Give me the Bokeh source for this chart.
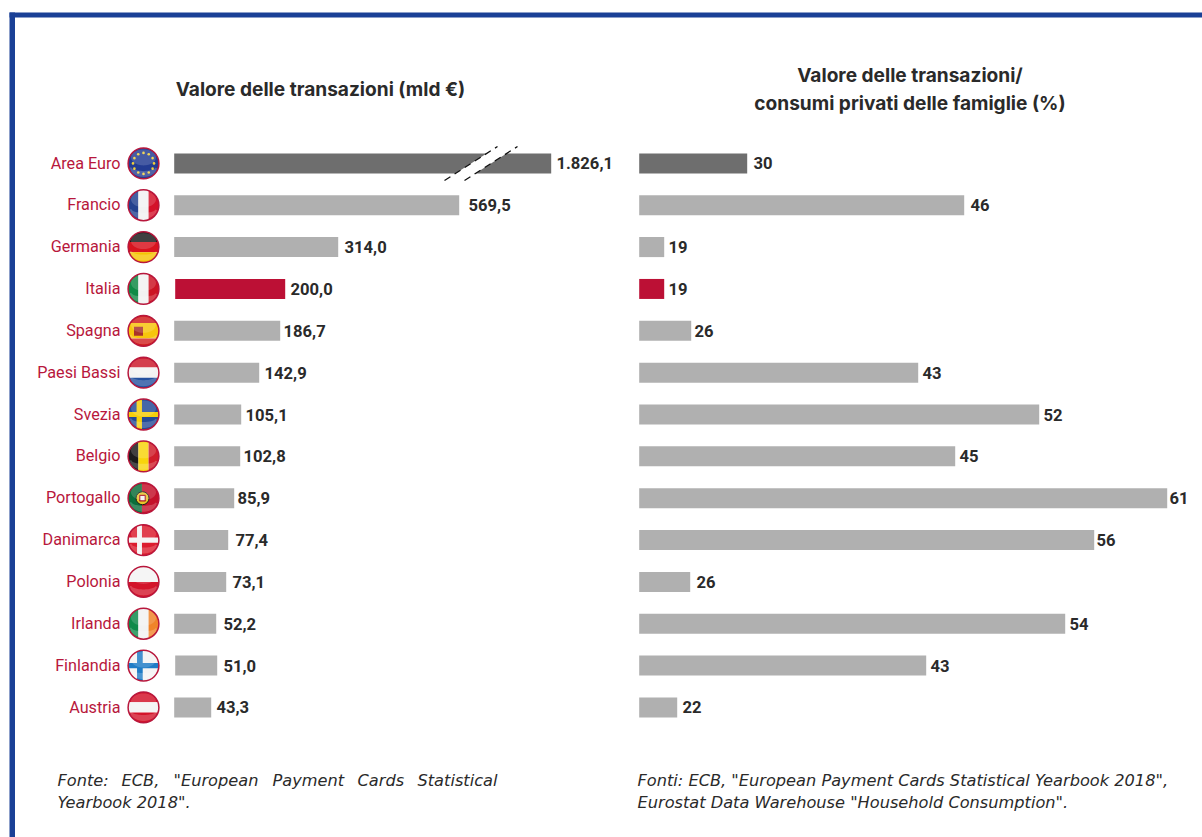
import math
from bokeh.plotting import figure
from bokeh.models import Range1d
from bokeh.core.properties import value
from bokeh.embed import file_html
from bokeh.resources import INLINE

# ---------- data ----------
countries = ["Area Euro", "Francio", "Germania", "Italia", "Spagna", "Paesi Bassi", "Svezia",
             "Belgio", "Portogallo", "Danimarca", "Polonia", "Irlanda", "Finlandia", "Austria"]
value_labels = ["1.826,1", "569,5", "314,0", "200,0", "186,7", "142,9", "105,1",
                "102,8", "85,9", "77,4", "73,1", "52,2", "51,0", "43,3"]
share_labels = ["30", "46", "19", "19", "26", "43", "52", "45", "61", "56", "26", "54", "43", "22"]
# The source graphic does not draw its bars to a common linear scale, so the
# drawn bar lengths are read from the picture alongside the printed labels.
value_bar_lengths = [377, 285, 164, 111, 106, 85, 67, 66, 60, 54, 52, 42, 43, 37]
value_bar_starts = [0, 0, 0, 1, 0, 0, 0, 0, 0, 0, 0, 0, 1, 0]
share_bar_lengths = [108, 325, 25, 25, 52, 279, 400, 316, 528, 455, 51, 426, 287, 38]

title_left = "Valore delle transazioni (mld €)"
title_right = ["Valore delle transazioni/", "consumi privati delle famiglie (%)"]
note_left_line1 = ["Fonte:", "ECB,", "\"European", "Payment", "Cards", "Statistical"]
note_left_line2 = "Yearbook 2018\"."
note_right = ["Fonti: ECB, \"European Payment Cards Statistical Yearbook 2018\",",
              "Eurostat Data Warehouse \"Household Consumption\"."]

# ---------- layout (page pixels) ----------
W, H = 1202, 837
PX0, PY0 = 0, 0
LEFT_BASE, RIGHT_BASE = 173.7, 638.7
ROW0, ROW_STEP = 162.9, 41.85
BAR_H = 20 / ROW_STEP
value_label_x = [556, 468, 344, 290, 283, 264, 245, 243, 237, 235, 232, 223, 223, 216]
share_label_x = [753, 970, 668, 668, 694, 922, 1043, 959, 1169, 1096, 696, 1069, 930, 682]
note_left_x = [57, 121, 173, 272, 357, 417]
FLAG_X, FLAG_R = 143, 15.4

BLUE = "#1a4096"; CRIMSON = "#b8173c"; DARK = "#2a2a2a"
BAR_DARK = "#6e6e6e"; BAR_GREY = "#b0b0b0"; BAR_RED = "#bc1035"
TITLE_FONT = value("Inter"); LABEL_FONT = value("Roboto"); NOTE_FONT = value("DejaVu Sans")

p = figure(width=W, height=H, output_backend="svg", toolbar_location=None,
           x_range=Range1d(PX0, PX0 + W), y_range=Range1d(PY0 + H, PY0),
           min_border=0, min_border_left=0, min_border_right=0, min_border_top=0,
           min_border_bottom=0, background_fill_color="white", border_fill_color="white",
           outline_line_color=None, x_axis_location=None, y_axis_location=None)
p.grid.visible = False

p.extra_x_ranges["values"] = Range1d(PX0 - LEFT_BASE, PX0 + W - LEFT_BASE)
p.extra_x_ranges["shares"] = Range1d(PX0 - RIGHT_BASE, PX0 + W - RIGHT_BASE)
p.extra_y_ranges["rows"] = Range1d((PY0 + H - ROW0) / ROW_STEP, (PY0 - ROW0) / ROW_STEP)

rows = list(range(len(countries)))
row_y = [ROW0 + i * ROW_STEP for i in rows]
def bar_colour(name):
    return BAR_DARK if name == "Area Euro" else BAR_RED if name == "Italia" else BAR_GREY
colours = [bar_colour(c) for c in countries]

# frame
p.quad(left=[9, 9], right=[PX0 + W, 14.5], top=[12, 12], bottom=[17, PY0 + H], color=BLUE, line_color=None)

# bars
p.hbar(y=rows, height=BAR_H, left=value_bar_starts, right=value_bar_lengths, color=colours, line_color=None,
       x_range_name="values", y_range_name="rows")
p.hbar(y=rows, height=BAR_H, left=0, right=share_bar_lengths, color=colours, line_color=None,
       x_range_name="shares", y_range_name="rows")

# axis break on the Area Euro bar
p.patch([444, 497, 517, 464], [180, 146, 146, 180], color="white", line_color=None)
p.multi_line([[444, 497], [464, 517]], [[180, 146], [180, 146]], line_color="#111111", line_width=1.3, line_dash="7 5")

# texts
p.text(x=[120] * 14, y=[y - .4 for y in row_y], text=countries, text_align="right", text_baseline="middle",
       text_font=LABEL_FONT, text_font_size="16.2px", text_color=CRIMSON)
p.text(x=value_label_x, y=row_y, text=value_labels, text_baseline="middle",
       text_font=LABEL_FONT, text_font_style="bold", text_font_size="16.6px", text_color=DARK)
p.text(x=share_label_x, y=row_y, text=share_labels, text_baseline="middle",
       text_font=LABEL_FONT, text_font_style="bold", text_font_size="16.6px", text_color=DARK)
p.text(x=[320, 909.5, 909.5], y=[88, 74.5, 102.5], text=[title_left] + title_right, text_align="center",
       text_baseline="middle", text_font=TITLE_FONT, text_font_style="bold", text_font_size="19.1px", text_color=DARK)
p.text(x=note_left_x, y=[780] * 6, text=note_left_line1, text_baseline="middle", text_font=NOTE_FONT,
       text_font_style="italic", text_font_size="16.2px", text_color=DARK)
p.text(x=[57], y=[802], text=[note_left_line2], text_baseline="middle", text_font=NOTE_FONT,
       text_font_style="italic", text_font_size="16.2px", text_color=DARK)
p.text(x=[637, 637], y=[780, 802], text=note_right, text_baseline="middle", text_font=NOTE_FONT,
       text_font_style="italic", text_font_size="16.2px", text_color=DARK)

# ---------- flags, as circle pieces ----------
N = 64
ring = [(math.cos(2 * math.pi * k / N), math.sin(2 * math.pi * k / N)) for k in range(N)]
def clip(cy, x0=-1, x1=1, y0=-1, y1=1):
    xs, ys = [], []
    for u, v in ring:
        xs.append(FLAG_X + FLAG_R * max(x0, min(x1, u)))
        ys.append(cy + FLAG_R * max(y0, min(y1, v)))
    return xs, ys

V3 = lambda a, b, c: [("x", -1, -.33, a), ("x", -.33, .33, b), ("x", .33, 1, c)]
H3 = lambda a, b, c: [("y", -1, -.33, a), ("y", -.33, .33, b), ("y", .33, 1, c)]
flag_parts = {
    "Area Euro": [("x", -1, 1, "#233c92")],
    "Francio": V3("#23418f", "#f2f2f2", "#d4122a"),
    "Germania": H3("#1c1c1c", "#d8141e", "#f5c400"),
    "Italia": V3("#0f8a45", "#f2f2f2", "#cc1424"),
    "Spagna": [("y", -1, -.5, "#d01e1e"), ("y", -.5, .5, "#f7c50c"), ("y", .5, 1, "#d01e1e")],
    "Paesi Bassi": H3("#cc1a2c", "#f2f2f2", "#24509f"),
    "Svezia": [("x", -1, 1, "#234a97"), ("x", -.45, -.1, "#f5cf0a"), ("y", -.17, .17, "#f5cf0a")],
    "Belgio": V3("#1c1c1c", "#f8d40c", "#d01e2a"),
    "Portogallo": [("x", -1, -.1, "#0b6e3a"), ("x", -.1, 1, "#c4112a")],
    "Danimarca": [("x", -1, 1, "#dc1c2e"), ("x", -.42, -.1, "#f4f4f4"), ("y", -.17, .17, "#f4f4f4")],
    "Polonia": [("y", -1, 0, "#f4f4f4"), ("y", 0, 1, "#d3142a")],
    "Irlanda": V3("#0f8a4a", "#f2f2f2", "#f0842a"),
    "Finlandia": [("x", -1, 1, "#f4f4f4"), ("x", -.42, -.05, "#1f7cc6"), ("y", -.17, .17, "#1f7cc6")],
    "Austria": H3("#d3142a", "#f4f4f4", "#d3142a"),
}
fx, fy, fc = [], [], []
for name, cy in zip(countries, row_y):
    for axis, a, b, col in flag_parts[name]:
        xs, ys = clip(cy, x0=a, x1=b) if axis == "x" else clip(cy, y0=a, y1=b)
        fx.append(xs); fy.append(ys); fc.append(col)
p.patches(fx, fy, fill_color=fc, line_color=None)

# emblems
eu_y = row_y[0]
stars = [(FLAG_X + 10.5 * math.cos(math.pi * k / 6), eu_y + 10.5 * math.sin(math.pi * k / 6)) for k in range(12)]
p.scatter([s[0] for s in stars], [s[1] for s in stars], size=2.6, color="#f0cf3a", line_color=None)
sp_y = row_y[countries.index("Spagna")]
p.scatter([FLAG_X - 5], [sp_y + .5], marker="square", size=9, color="#a8322a", line_color=None)
pt_y = row_y[countries.index("Portogallo")]
p.scatter([FLAG_X - 1], [pt_y], size=13, color="#e8c52a", line_color="#1a1a1a", line_width=1)
p.scatter([FLAG_X - 1], [pt_y], marker="square", size=5.5, color="#f4f4f4", line_color="#b0141e", line_width=1.2)

# gloss and rim
gloss_x, gloss_y, low_x, low_y = [], [], [], []
for cy in row_y:
    gloss_x.append([FLAG_X + 12.5 * u for u, v in ring]); gloss_y.append([cy - 6 + 8 * v for u, v in ring])
    lo = [(u, v) for u, v in ring if v > 0]
    low_x.append([FLAG_X + 13.5 * u for u, v in lo] + [FLAG_X + 12 * u for u, v in reversed(lo)])
    low_y.append([cy + 4 + 9.5 * v for u, v in lo] + [cy + 4 + 3.5 * v for u, v in reversed(lo)])
p.patches(gloss_x, gloss_y, fill_color="white", fill_alpha=.16, line_color=None)
p.patches(low_x, low_y, fill_color="white", fill_alpha=.2, line_color=None)
p.circle(x=[FLAG_X] * 14, y=row_y, radius=FLAG_R, fill_color=None, line_color=CRIMSON, line_width=1.5)

open("out.html", "w").write(file_html(p, INLINE))
